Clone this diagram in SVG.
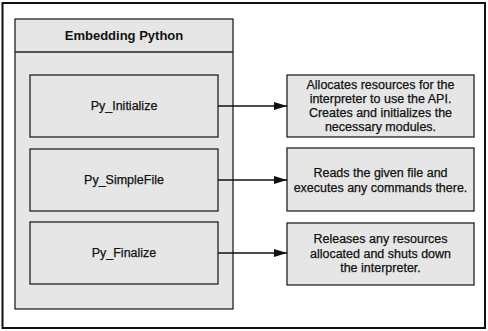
<svg xmlns="http://www.w3.org/2000/svg" width="488" height="331" viewBox="0 0 488 331">
<defs>
<marker id="arr" viewBox="0 0 13 8" refX="13" refY="4" markerWidth="13" markerHeight="8" markerUnits="userSpaceOnUse" orient="auto">
<path d="M0,0 L13,4 L0,8 Z" fill="#111"/>
</marker>
</defs>
<style>
.box{fill:#e6e6e6;stroke:#222;stroke-width:1.3}
.t{font-family:"Liberation Sans",Arial,Helvetica,sans-serif;font-size:12.5px;fill:#111;stroke:#111;stroke-width:0.25;text-anchor:middle}
.b{font-weight:bold;font-size:13px;stroke-width:0}
.c{stroke:#111;stroke-width:1.3;fill:none}
</style>
<rect x="0" y="0" width="488" height="331" fill="#fff"/>
<rect x="2.5" y="3" width="482.5" height="325" fill="#fff" stroke="#111" stroke-width="2"/>
<g id="container">
<rect class="box" x="15" y="19" width="218" height="290"/>
<line x1="15" y1="52" x2="233" y2="52" stroke="#222" stroke-width="1.3"/>
<text class="t b" x="124" y="40">Embedding Python</text>
</g>
<g id="py_initialize">
<rect class="box" x="30" y="75" width="188" height="62"/>
<text class="t" x="124" y="110">Py_Initialize</text>
</g>
<g id="py_simplefile">
<rect class="box" x="30" y="149" width="188" height="62"/>
<text class="t" x="124" y="184">Py_SimpleFile</text>
</g>
<g id="py_finalize">
<rect class="box" x="30" y="222" width="188" height="62"/>
<text class="t" x="124" y="257">Py_Finalize</text>
</g>
<g id="desc_initialize">
<rect class="box" x="287" y="75" width="187" height="62"/>
<text class="t" x="380.5" y="89">Allocates resources for the</text>
<text class="t" x="380.5" y="103">interpreter to use the API.</text>
<text class="t" x="380.5" y="117">Creates and initializes the</text>
<text class="t" x="380.5" y="131">necessary modules.</text>
</g>
<g id="desc_simplefile">
<rect class="box" x="287" y="148" width="187" height="63"/>
<text class="t" x="380.5" y="177">Reads the given file and</text>
<text class="t" x="380.5" y="192">executes any commands there.</text>
</g>
<g id="desc_finalize">
<rect class="box" x="287" y="223" width="187" height="62"/>
<text class="t" x="380.5" y="243">Releases any resources</text>
<text class="t" x="380.5" y="258">allocated and shuts down</text>
<text class="t" x="380.5" y="272">the interpreter.</text>
</g>
<g id="connectors">
<line class="c" x1="218" y1="106" x2="287" y2="106" marker-end="url(#arr)"/>
<line class="c" x1="218" y1="180" x2="287" y2="180" marker-end="url(#arr)"/>
<line class="c" x1="218" y1="253" x2="287" y2="253" marker-end="url(#arr)"/>
</g>
</svg>
